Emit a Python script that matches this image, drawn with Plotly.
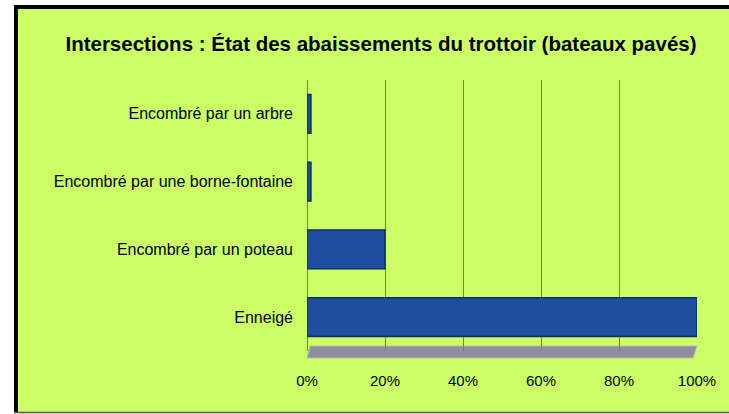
import plotly.graph_objects as go

# Share of lowered curbs (bateaux pavés) per condition, in percent
categories = [
    "Enneigé",
    "Encombré par un poteau",
    "Encombré par une borne-fontaine",
    "Encombré par un arbre",
]
values = [100, 20, 1, 1]
x_ticks = [0, 20, 40, 60, 80, 100]

W, H = 729, 414
ML, MR, MT, MB = 307, 32, 80, 63
PW, PH = W - ML - MR, H - MT - MB


def px_x(p):
    """Pixel column -> paper x."""
    return (p - ML) / PW


def px_y(p):
    """Pixel row -> paper y."""
    return (H - MB - p) / PH


LIME = "#CCFF66"
BAR = "#1F4E9E"
BAR_EDGE = "#0B2D6B"

fig = go.Figure(
    go.Bar(
        y=categories,
        x=values,
        orientation="h",
        width=0.57,
        marker=dict(color=BAR, line=dict(color=BAR_EDGE, width=1.5)),
        hoverinfo="x+y",
    )
)

shapes = [
    # chart panel
    dict(type="rect", xref="paper", yref="paper", layer="below",
         x0=px_x(14), x1=px_x(745), y0=px_y(413), y1=px_y(5),
         fillcolor=LIME, line=dict(width=0)),
    # floor of the 3-D plot
    dict(type="path", xref="x", yref="paper", layer="below",
         path=f"M 0.8 {px_y(346)} L 100 {px_y(346)} L 99 {px_y(358)} L 0 {px_y(358)} Z",
         fillcolor="#8E8E9C", line=dict(color="#B8B8C4", width=1)),
    # frame edges
    dict(type="line", xref="paper", yref="paper",
         x0=px_x(16), x1=px_x(16), y0=px_y(413), y1=px_y(5),
         line=dict(color="black", width=4)),
    dict(type="line", xref="paper", yref="paper",
         x0=px_x(14), x1=px_x(745), y0=px_y(7), y1=px_y(7),
         line=dict(color="black", width=4)),
    dict(type="line", xref="paper", yref="paper",
         x0=px_x(14), x1=px_x(745), y0=px_y(412.5), y1=px_y(412.5),
         line=dict(color="#555555", width=1.5)),
]

fig.update_layout(
    width=W,
    height=H,
    margin=dict(l=ML, r=MR, t=MT, b=MB),
    paper_bgcolor="white",
    plot_bgcolor="rgba(0,0,0,0)",
    showlegend=False,
    bargap=0.43,
    font=dict(family="Liberation Sans, Arial, sans-serif", color="black"),
    title=dict(
        text="<b>Intersections : État des abaissements du trottoir (bateaux pavés)</b>",
        x=px_x(381), xref="paper", xanchor="center",
        y=1 - 44 / H, yanchor="middle",
        font=dict(size=20.5, color="black"),
    ),
    shapes=shapes,
)

fig.update_xaxes(
    range=[0, 100],
    tickvals=x_ticks,
    ticktext=[f"{v}%" for v in x_ticks],
    showgrid=True,
    gridcolor="#777777",
    gridwidth=1.2,
    zeroline=True,
    zerolinecolor="#777777",
    zerolinewidth=1.2,
    showline=False,
    ticks="",
    ticklabelstandoff=19,
    tickfont=dict(size=15),
)

fig.update_yaxes(
    categoryorder="array",
    categoryarray=categories,
    range=[-0.5, 3.5],
    showgrid=False,
    zeroline=False,
    showline=False,
    ticks="",
    ticklabelstandoff=13,
    tickfont=dict(size=16),
)

fig.write_html("out.html")
